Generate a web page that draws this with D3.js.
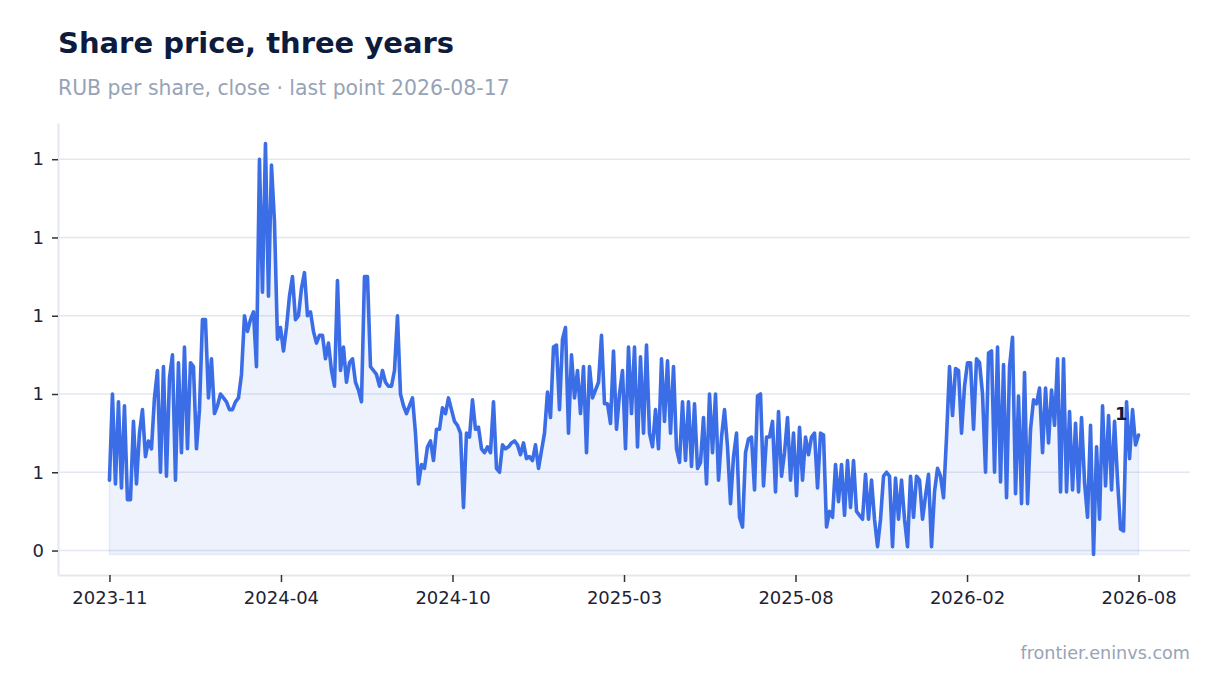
<!DOCTYPE html>
<html>
<head>
<meta charset="utf-8">
<script src="https://cdn.jsdelivr.net/npm/d3@7"></script>
<style>
  body { margin: 0; background: #fff; }
  svg { display: block; font-family: "DejaVu Sans", sans-serif; }
</style>
</head>
<body>
<script>
// closing prices, one value per step, oldest first
var closes = [
  0.58, 0.80, 0.57, 0.78, 0.56, 0.77, 0.53, 0.53, 0.73, 0.57,
  0.70, 0.76, 0.64, 0.68, 0.66, 0.79, 0.86, 0.60, 0.87, 0.59,
  0.84, 0.90, 0.58, 0.88, 0.65, 0.92, 0.66, 0.88, 0.87, 0.66,
  0.76, 0.99, 0.99, 0.79, 0.89, 0.75, 0.77, 0.80, 0.79, 0.78,
  0.76, 0.76, 0.78, 0.79, 0.85, 1.00, 0.96, 0.99, 1.01, 0.87,
  1.40, 1.06, 1.44, 1.05, 1.385, 1.24, 0.94, 0.97, 0.91, 0.97,
  1.05, 1.10, 0.99, 1.00, 1.07, 1.11, 1.00, 1.01, 0.96, 0.93,
  0.95, 0.95, 0.89, 0.93, 0.86, 0.82, 1.09, 0.86, 0.92, 0.83,
  0.88, 0.89, 0.83, 0.81, 0.78, 1.10, 1.10, 0.87, 0.86, 0.85,
  0.82, 0.86, 0.83, 0.82, 0.82, 0.86, 1.00, 0.80, 0.77, 0.75,
  0.77, 0.79, 0.70, 0.57, 0.62, 0.61, 0.665, 0.68, 0.63, 0.71,
  0.71, 0.765, 0.75, 0.79, 0.76, 0.73, 0.72, 0.70, 0.51, 0.70,
  0.69, 0.785, 0.71, 0.715, 0.66, 0.65, 0.665, 0.65, 0.78, 0.61,
  0.60, 0.67, 0.66, 0.665, 0.675, 0.68, 0.67, 0.645, 0.675, 0.635,
  0.64, 0.63, 0.67, 0.61, 0.655, 0.70, 0.805, 0.74, 0.92, 0.925,
  0.76, 0.94, 0.97, 0.70, 0.90, 0.79, 0.86, 0.75, 0.87, 0.65,
  0.87, 0.79, 0.81, 0.83, 0.95, 0.775, 0.775, 0.725, 0.91, 0.71,
  0.80, 0.86, 0.66, 0.92, 0.75, 0.92, 0.665, 0.895, 0.70, 0.925,
  0.70, 0.665, 0.76, 0.66, 0.89, 0.73, 0.885, 0.70, 0.87, 0.66,
  0.625, 0.78, 0.63, 0.78, 0.615, 0.775, 0.61, 0.625, 0.74, 0.57,
  0.80, 0.65, 0.80, 0.58, 0.69, 0.76, 0.665, 0.52, 0.64, 0.70,
  0.485, 0.46, 0.65, 0.685, 0.69, 0.555, 0.795, 0.80, 0.565, 0.69,
  0.69, 0.73, 0.55, 0.755, 0.59, 0.65, 0.74, 0.58, 0.70, 0.54,
  0.715, 0.58, 0.69, 0.645, 0.69, 0.70, 0.56, 0.70, 0.695, 0.46,
  0.50, 0.485, 0.62, 0.525, 0.62, 0.49, 0.63, 0.51, 0.63, 0.50,
  0.49, 0.48, 0.595, 0.48, 0.58, 0.48, 0.41, 0.48, 0.59, 0.60,
  0.59, 0.41, 0.585, 0.48, 0.58, 0.48, 0.41, 0.59, 0.485, 0.59,
  0.58, 0.48, 0.54, 0.595, 0.41, 0.55, 0.61, 0.59, 0.535, 0.69,
  0.87, 0.745, 0.865, 0.86, 0.70, 0.82, 0.88, 0.88, 0.71, 0.89,
  0.88, 0.80, 0.60, 0.905, 0.91, 0.60, 0.92, 0.575, 0.875, 0.535,
  0.87, 0.945, 0.545, 0.795, 0.52, 0.855, 0.52, 0.71, 0.785, 0.775,
  0.815, 0.65, 0.815, 0.675, 0.81, 0.72, 0.89, 0.55, 0.89, 0.55,
  0.755, 0.555, 0.725, 0.55, 0.74, 0.575, 0.485, 0.72, 0.39, 0.665,
  0.48, 0.77, 0.565, 0.745, 0.555, 0.73, 0.58, 0.455, 0.45, 0.78,
  0.635, 0.76, 0.67, 0.695
];

// x tick labels, evenly spaced along the series
var xTickLabels = ["2023-11", "2024-04", "2024-10", "2025-03", "2025-08", "2026-02", "2026-08"];

var titleText = "Share price, three years";
var subtitleText = "RUB per share, close \u00b7 last point 2026-08-17";
var sourceText = "frontier.eninvs.com";

var width = 1220,
    height = 693;
var margin = {top: 123, right: 30, bottom: 118, left: 58};
var innerW = width - margin.left - margin.right,
    innerH = height - margin.top - margin.bottom;

var svg = d3.select("body").append("svg")
    .attr("width", width)
    .attr("height", height);

//title block
svg.append("text")
    .attr("x", 58).attr("y", 53)
    .attr("font-size", 29).attr("font-weight", "bold")
    .attr("fill", "#0d1b3e")
    .text(titleText);

svg.append("text")
    .attr("x", 58).attr("y", 95)
    .attr("font-size", 20.4)
    .attr("fill", "#97a3b6")
    .text(subtitleText);

svg.append("text")
    .attr("x", 1190).attr("y", 659)
    .attr("text-anchor", "end")
    .attr("font-size", 17.6)
    .attr("fill", "#97a3b6")
    .text(sourceText);

var g = svg.append("g")
    .attr("transform", "translate(" + margin.left + "," + margin.top + ")");

var n = closes.length;
var x = d3.scaleLinear()
    .domain([-0.05 * (n - 1), 1.05 * (n - 1)])
    .range([0, innerW]);

var ext = d3.extent(closes),
    pad = (ext[1] - ext[0]) * 0.05;
var y = d3.scaleLinear()
    .domain([ext[0] - pad, ext[1] + pad])
    .range([innerH, 0]);

var yTicks = y.ticks(5);

//horizontal gridlines
g.append("g")
    .selectAll("line")
    .data(yTicks)
    .enter().append("line")
    .attr("x1", 0).attr("x2", innerW)
    .attr("y1", function(d){ return y(d); })
    .attr("y2", function(d){ return y(d); })
    .attr("stroke", "#e3e8f0")
    .attr("stroke-width", 1.5);

//area under the line, down to the lowest close
var area = d3.area()
    .x(function(d, i){ return x(i); })
    .y0(y(ext[0]))
    .y1(function(d){ return y(d); });

g.append("path")
    .datum(closes)
    .attr("d", area)
    .attr("fill", "rgba(59,110,230,0.09)")
    .attr("stroke", "rgba(59,110,230,0.10)")
    .attr("stroke-width", 1.5);

var line = d3.line()
    .x(function(d, i){ return x(i); })
    .y(function(d){ return y(d); });

g.append("path")
    .datum(closes)
    .attr("d", line)
    .attr("fill", "none")
    .attr("stroke", "#3b6de6")
    .attr("stroke-width", 3.6)
    .attr("stroke-linejoin", "round")
    .attr("stroke-linecap", "round");

function styleAxis(sel){
    sel.attr("font-family", "DejaVu Sans").attr("font-size", 18);
    sel.select(".domain").attr("stroke", "#e3e8f0").attr("stroke-width", 2);
    sel.selectAll(".tick line").attr("stroke", "#333").attr("stroke-width", 1.5);
    sel.selectAll(".tick text").attr("fill", "#1e2333");
}

//axes
g.append("g")
    .call(d3.axisLeft(y)
        .tickValues(yTicks)
        .tickFormat(d3.format(".0f"))
        .tickSize(6)
        .tickSizeOuter(0)
        .tickPadding(8))
    .call(styleAxis);

var xTickValues = xTickLabels.map(function(d, i){ return i * (n - 1) / (xTickLabels.length - 1); });

g.append("g")
    .attr("transform", "translate(0," + innerH + ")")
    .call(d3.axisBottom(x)
        .tickValues(xTickValues)
        .tickFormat(function(d, i){ return xTickLabels[i]; })
        .tickSize(7)
        .tickSizeOuter(0)
        .tickPadding(9))
    .call(styleAxis);

//label on the last point
var last = closes[n - 1];
g.append("text")
    .attr("x", x(n - 1) - 11)
    .attr("y", y(last) - 15)
    .attr("text-anchor", "end")
    .attr("font-size", 18)
    .attr("font-weight", "bold")
    .attr("fill", "#0d1b3e")
    .text(d3.format(".0f")(last));
</script>
</body>
</html>
